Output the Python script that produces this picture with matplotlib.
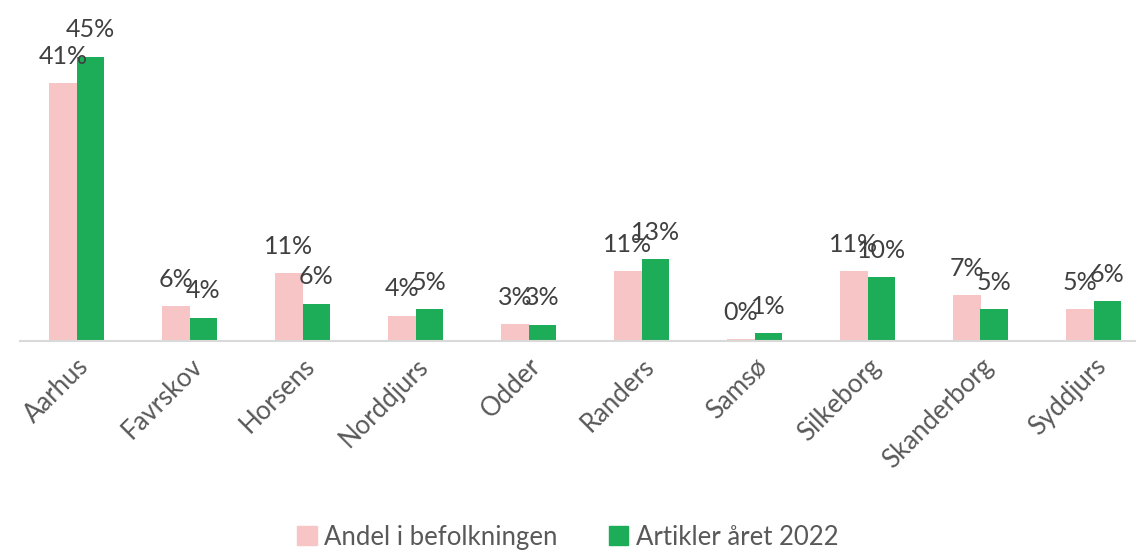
import numpy as np
import matplotlib
matplotlib.use("Agg")
from matplotlib import pyplot as plt
from matplotlib.patches import Patch

# Data
kommuner = ["Aarhus", "Favrskov", "Horsens", "Norddjurs", "Odder",
            "Randers", "Samsø", "Silkeborg", "Skanderborg", "Syddjurs"]
andel_befolkning = np.array([40.8, 5.5, 10.7, 4.0, 2.7, 11.1, 0.3, 11.1, 7.3, 5.0])
artikler_2022 = np.array([45.0, 3.7, 5.9, 5.1, 2.6, 13.0, 1.2, 10.1, 5.1, 6.3])
serier = ["Andel i befolkningen", "Artikler året 2022"]

pink = "#F8C5C6"
green = "#1DAC58"
text_col = "#404040"

plt.rcParams["font.family"] = ["Lato", "DejaVu Sans"]

fig = plt.figure(figsize=(11.36, 5.52), dpi=100)
ax = fig.add_axes([20 / 1136, 1 - 341 / 552, 1130 / 1136, 331 / 552])

x = np.arange(len(kommuner))
w = 0.24
b1 = ax.bar(x - w / 2, andel_befolkning, w, color=pink)
b2 = ax.bar(x + w / 2, artikler_2022, w, color=green)

for bars, vals in [(b1, andel_befolkning), (b2, artikler_2022)]:
    for rect, v in zip(bars, vals):
        ax.annotate(f"{v:.0f}%", (rect.get_x() + rect.get_width() / 2, v),
                    xytext=(0, 11), textcoords="offset points",
                    ha="center", va="bottom", fontsize=18, color=text_col)

ax.set_xlim(-0.5, len(kommuner) - 0.5)
ax.set_ylim(0, 52.4)
ax.set_yticks([])
for s in ["top", "right", "left"]:
    ax.spines[s].set_visible(False)
ax.spines["bottom"].set_color("#D9D9D9")
ax.spines["bottom"].set_linewidth(1.5)

ax.set_xticks(x)
ax.set_xticklabels(kommuner, rotation=45, ha="right", va="top",
                   rotation_mode="anchor", fontsize=18.5, color="#595959")
ax.tick_params(axis="x", length=0, pad=9)

handles = [Patch(color=pink), Patch(color=green)]
fig.legend(handles, serier, loc="lower center", bbox_to_anchor=(0.5, -0.038),
           ncol=2, frameon=False, fontsize=18.5, handlelength=0.75,
           handleheight=0.75, handletextpad=0.3, columnspacing=2.0,
           labelcolor="#595959")

fig.savefig("out.png", dpi=100)
